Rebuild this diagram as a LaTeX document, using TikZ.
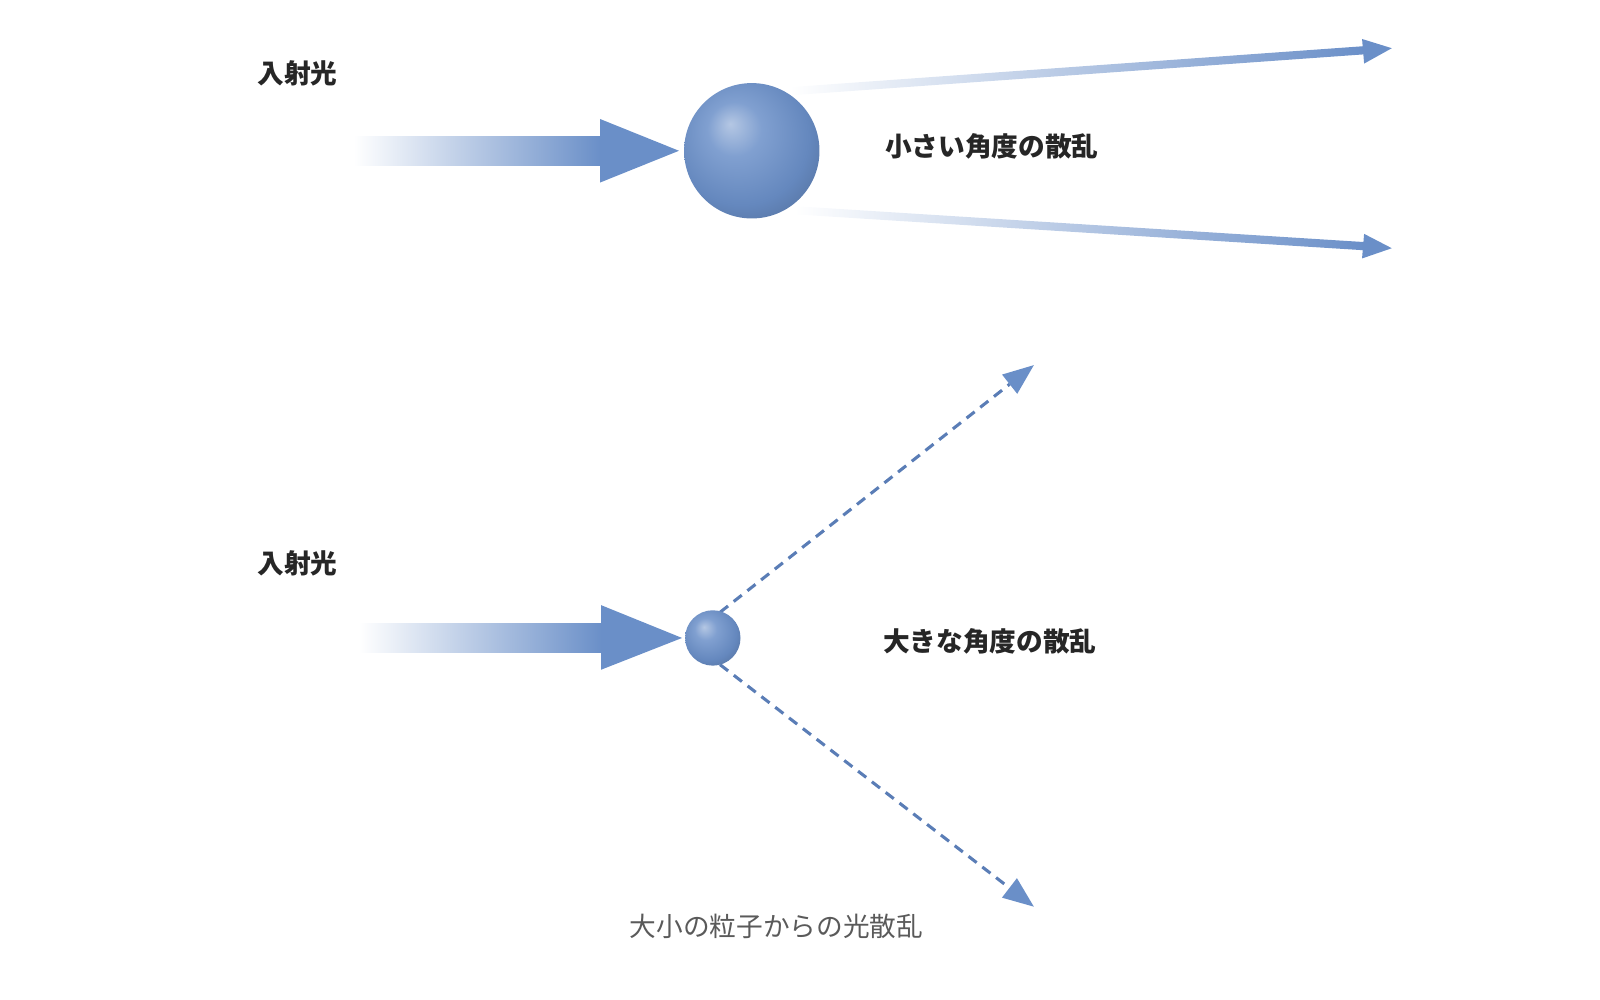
\documentclass[tikz,border=0pt]{standalone}
\usepackage{fontspec}
\newfontfamily\jp{Noto Sans CJK JP}
\definecolor{lb}{RGB}{106,143,200}
\definecolor{db}{RGB}{90,125,182}
\definecolor{cap}{RGB}{90,90,90}
\pgfdeclareradialshading{myball}{\pgfpoint{-8bp}{10bp}}{%
  color(0bp)=(lb!50!white); color(10bp)=(lb!85!white); color(25bp)=(lb!95!black); color(38bp)=(lb!75!black); color(50bp)=(lb!60!black)}
\tikzset{
  lbl/.style={font=\jp\bfseries\fontsize{13}{15}\selectfont, text=black!85},
  capt/.style={font=\jp\fontsize{13}{15}\selectfont, text=cap},
  dashline/.style={draw=db, line width=1.5pt, dash pattern=on 5pt off 3.5pt}
}
\begin{document}
\begin{tikzpicture}[x=0.5pt,y=-0.5pt]
\useasboundingbox (0,0) rectangle (1560,975);
% --- top: incident arrow
\shade[left color=white, right color=lb] (345,133) rectangle (586,161);
\fill[lb] (585,116) -- (662,147) -- (585,178) -- cycle;
\node[lbl] (in1) at (290,72) {入射光};
% scattered thin arrows
\shade[left color=white, right color=lb] (770,85) -- (1330,45) -- (1330,53) -- (770,93) -- cycle;
\fill[lb] (1328,38) -- (1357,47) -- (1330,62) -- cycle;
\shade[left color=white, right color=lb] (775,201) -- (1330,236) -- (1330,244) -- (775,209) -- cycle;
\fill[lb] (1330,228) -- (1357,242) -- (1328,252) -- cycle;
\shade[shading=myball] (733,147) circle[radius=66];
\node[lbl] (t1) at (967,143) {小さい角度の散乱};
% --- bottom
\shade[left color=white, right color=lb] (350,608) rectangle (587,636);
\fill[lb] (586,590) -- (665,622) -- (586,653) -- cycle;
\node[lbl] (in2) at (290,549) {入射光};
\coordinate (s1) at (702,597);
\coordinate (b1) at (984.4,374.6);
\coordinate (e1) at (1008,356);
\coordinate (s2) at (702,648);
\coordinate (b2) at (984.2,865.7);
\coordinate (e2) at (1008,884);
\draw[dashline] (s1) -- (b1);
\draw[dashline] (s2) -- (b2);
\fill[lb] (e1) -- (991.8,384) -- (977,365.2) -- cycle;
\fill[lb] (e2) -- (976.9,875.2) -- (991.5,856.2) -- cycle;
\shade[shading=myball] (695,622) circle[radius=27];
\node[lbl] (t2) at (965,625) {大きな角度の散乱};
\node[capt] (c) at (757,903) {大小の粒子からの光散乱};
\end{tikzpicture}
\end{document}
